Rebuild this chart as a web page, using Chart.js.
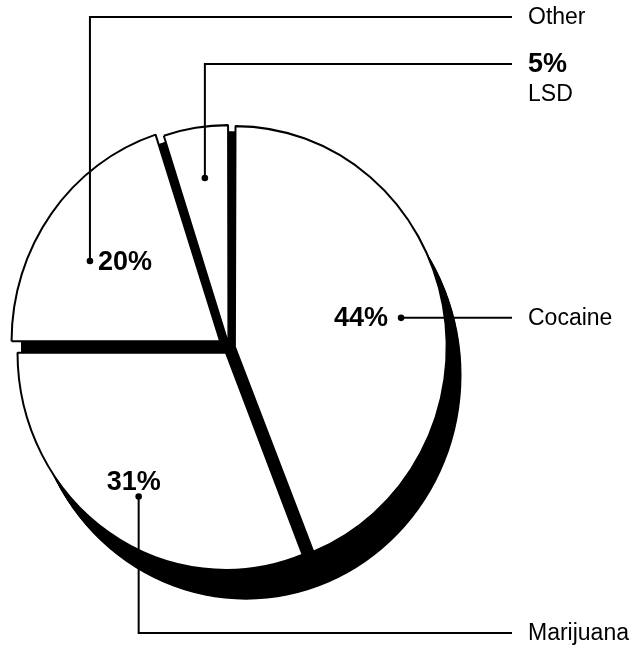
<!DOCTYPE html>
<html>
<head>
<meta charset="utf-8">
<script src="https://cdn.jsdelivr.net/npm/chart.js@4.4.1/dist/chart.umd.min.js"></script>
<style>
  html, body { margin: 0; padding: 0; background: #ffffff; }
  #wrap { position: relative; width: 632px; height: 649px; }
  canvas { display: block; }
</style>
</head>
<body>
<div id="wrap"><canvas id="c" width="632" height="649"></canvas></div>
<script>
// ---- data ----
const categories = ['Cocaine', 'Marijuana', 'Other', 'LSD'];
const shares = [44, 31, 20, 5];
const pctLabels = ['44%', '31%', '20%', '5%'];

// ---- layout / style (not data) ----
const sliceOffsets = [24, 22, 44, 14];          // explode distance (Chart.js units)
const pctPlacement = ['left', 'above', 'right', 'outside'];
const dotRadiusFrac = [0.81, 0.785, 0.727, 0.776];
const dotAngleShiftDeg = [1.3, -1.9, -5.4, 0.6];
const labelRowY = [null, 633, 17, 64];           // y of right-hand label row (null = dot's y)
const labelX = 528;
const leaderEndX = 512;
const stretchY = 1.042;                          // slight vertical stretch of the pie face
const FONT = '"Liberation Sans", Arial, Helvetica, sans-serif';

function pieCenter(chart) {
  const a = chart.getDatasetMeta(0).data[0];
  return a ? { x: a.x, y: a.y } : null;
}

const tilt = {
  id: 'tilt',
  beforeDatasetsDraw(chart) {
    const c = pieCenter(chart);
    const ctx = chart.ctx;
    ctx.save();
    if (c) {
      ctx.translate(c.x, c.y);
      ctx.scale(1, stretchY);
      ctx.translate(-c.x, -c.y);
    }
  },
  afterDatasetsDraw(chart) {
    chart.ctx.restore();
  }
};

const extrusion = {
  id: 'extrusion',
  beforeDatasetsDraw(chart) {
    const a = chart.getDatasetMeta(0).data[0];
    if (!a) return;
    const ctx = chart.ctx;
    const R = a.outerRadius;
    const dx = 17, dy = 26, R2 = R + 7.5;
    ctx.save();
    ctx.fillStyle = '#000';
    const steps = 48;
    for (let s = 0; s <= steps; s++) {
      const t = s / steps;
      ctx.beginPath();
      ctx.arc(a.x + dx * t, a.y + dy * t, R + (R2 - R) * t, 0, Math.PI * 2);
      ctx.fill();
    }
    ctx.restore();
  }
};

const leaders = {
  id: 'leaders',
  afterDatasetsDraw(chart) {
    const meta = chart.getDatasetMeta(0);
    const ctx = chart.ctx;
    ctx.save();
    ctx.strokeStyle = '#000';
    ctx.fillStyle = '#000';
    ctx.lineWidth = 2;
    meta.data.forEach((arc, i) => {
      const half = (arc.startAngle + arc.endAngle) / 2;
      const shift = (arc.options.offset || 0) / 4;
      const cx = arc.x + Math.cos(half) * shift;
      const cy = arc.y + Math.sin(half) * shift;
      const mid = half + dotAngleShiftDeg[i] * Math.PI / 180;
      const r = arc.outerRadius * dotRadiusFrac[i];
      const px = cx + Math.cos(mid) * r;
      const pyRaw = cy + Math.sin(mid) * r;
      const py = arc.y + (pyRaw - arc.y) * stretchY;
      const rowY = labelRowY[i] === null ? py : labelRowY[i];
      // leader line
      ctx.beginPath();
      ctx.moveTo(px, py);
      if (rowY !== py) ctx.lineTo(px, rowY);
      ctx.lineTo(leaderEndX, rowY);
      ctx.stroke();
      ctx.beginPath();
      ctx.arc(px, py, 3.3, 0, Math.PI * 2);
      ctx.fill();
      // category label
      ctx.textBaseline = 'middle';
      ctx.textAlign = 'left';
      if (pctPlacement[i] === 'outside') {
        ctx.font = 'bold 27px ' + FONT;
        ctx.fillText(pctLabels[i], labelX, rowY + 1);
        ctx.font = '23px ' + FONT;
        ctx.fillText(categories[i], labelX, rowY + 31);
      } else {
        ctx.font = '23px ' + FONT;
        ctx.fillText(categories[i], labelX, rowY + 1);
      }
      // percentage label
      ctx.font = 'bold 27px ' + FONT;
      if (pctPlacement[i] === 'left') {
        ctx.textAlign = 'right';
        ctx.textBaseline = 'middle';
        ctx.fillText(pctLabels[i], px - 13, py + 1);
      } else if (pctPlacement[i] === 'right') {
        ctx.textAlign = 'left';
        ctx.textBaseline = 'middle';
        ctx.fillText(pctLabels[i], px + 8, py + 1);
      } else if (pctPlacement[i] === 'above') {
        ctx.textAlign = 'center';
        ctx.textBaseline = 'alphabetic';
        ctx.fillText(pctLabels[i], px - 5, py - 7);
      }
    });
    ctx.restore();
  }
};

new Chart(document.getElementById('c'), {
  type: 'pie',
  data: {
    labels: categories,
    datasets: [{
      data: shares,
      backgroundColor: '#ffffff',
      borderColor: '#000000',
      borderWidth: 2,
      offset: sliceOffsets,
      hoverOffset: 0
    }]
  },
  options: {
    responsive: false,
    animation: false,
    radius: 208,
    layout: { padding: { left: 0, right: 174, top: 47, bottom: 0 } },
    plugins: { legend: { display: false }, tooltip: { enabled: false } },
    events: []
  },
  plugins: [tilt, extrusion, leaders]
});
</script>
</body>
</html>
